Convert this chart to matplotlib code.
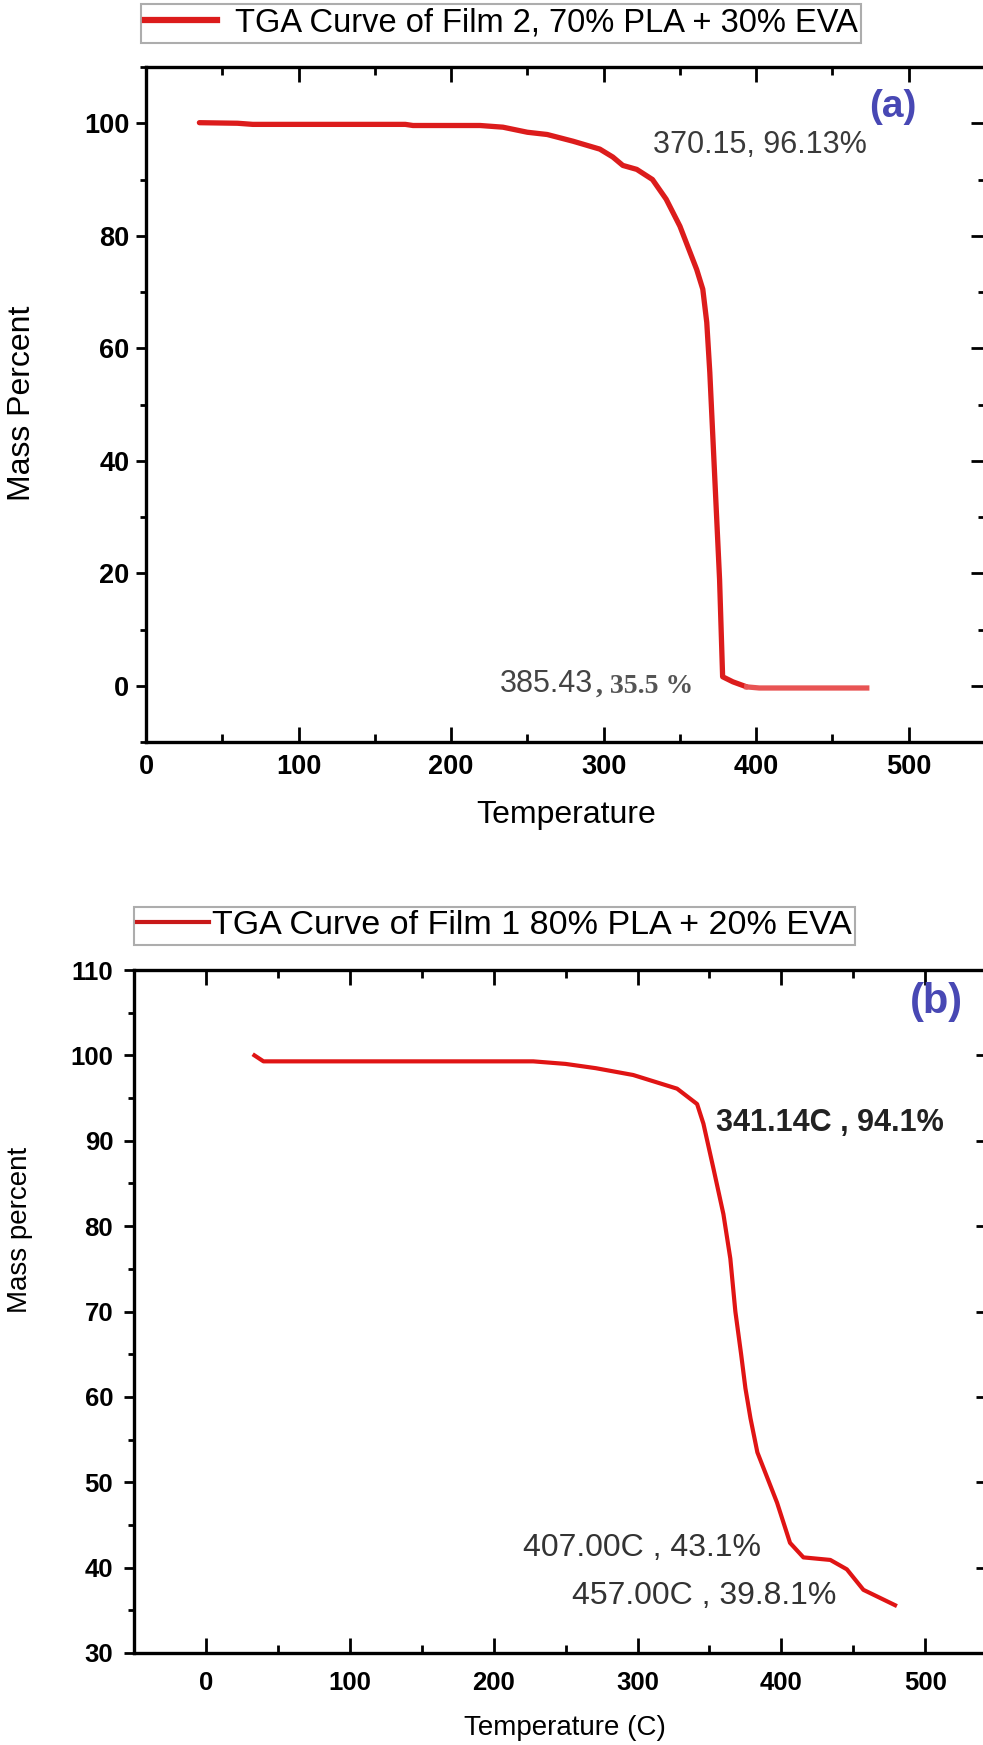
import matplotlib
matplotlib.use("Agg")
import matplotlib.pyplot as plt
from matplotlib.lines import Line2D
from matplotlib.ticker import MultipleLocator

# film 2 (70% PLA + 30% EVA)
temp_a = [35, 60, 70, 120, 170, 175, 219, 234, 250, 263, 280, 297.5, 306, 312.6, 321.7, 332, 341,
          350, 361, 365, 367.6, 369.6, 372.9, 376, 378, 384.7, 393.8, 402, 440, 472.5]
mass_a = [100.1, 100.0, 99.8, 99.8, 99.8, 99.6, 99.6, 99.3, 98.4, 98.0, 96.8, 95.4, 94.0, 92.5, 91.8,
          90.0, 86.5, 81.7, 74.0, 70.5, 64.6, 55.7, 36.7, 18.9, 1.6, 0.7, -0.2, -0.4, -0.4, -0.4]

# film 1 (80% PLA + 20% EVA)
temp_b = [33.7, 40, 120, 227.5, 250, 271, 297, 327.5, 341.4, 345.8, 352.7, 359.7, 364.5, 368,
          372, 375, 378.5, 383.3, 397, 406, 415.3, 434, 445.5, 457, 479]
mass_b = [100.0, 99.3, 99.3, 99.3, 99.0, 98.5, 97.7, 96.1, 94.3, 92.0, 86.8, 81.4, 76.2, 70.0,
          65.0, 61.0, 57.5, 53.5, 47.6, 42.9, 41.2, 40.9, 39.8, 37.4, 35.6]

label_a = "TGA Curve of Film 2, 70% PLA + 30% EVA"
label_b = "TGA Curve of Film 1 80% PLA + 20% EVA"

W, H = 983, 1745
plt.rcParams['font.family'] = ['Liberation Sans', 'DejaVu Sans']


def px(x, y):
    return x / W, 1 - y / H


def style_axes(ax, fs, ylab_pad, xlab_pad, ymaj, ymin):
    ax.yaxis.set_major_locator(MultipleLocator(ymaj))
    ax.yaxis.set_minor_locator(MultipleLocator(ymin))
    ax.xaxis.set_major_locator(MultipleLocator(100))
    ax.xaxis.set_minor_locator(MultipleLocator(50))
    ax.tick_params(axis='x', which='both', direction='in', top=True, width=2)
    ax.tick_params(axis='x', which='major', length=11, labelsize=fs, pad=xlab_pad)
    ax.tick_params(axis='x', which='minor', length=6)
    ax.tick_params(axis='y', which='both', direction='out', right=False, width=2)
    ax.tick_params(axis='y', which='major', length=7, labelsize=fs, pad=ylab_pad)
    ax.tick_params(axis='y', which='minor', length=4)
    for lab in ax.get_xticklabels() + ax.get_yticklabels():
        lab.set_fontweight('bold')
    for sp in ax.spines.values():
        sp.set_linewidth(2.4)
    sec = ax.secondary_yaxis('right')
    sec.yaxis.set_major_locator(MultipleLocator(ymaj))
    sec.yaxis.set_minor_locator(MultipleLocator(ymin))
    sec.tick_params(which='both', direction='in', labelright=False, width=2)
    sec.tick_params(which='major', length=10)
    sec.tick_params(which='minor', length=5)


fig = plt.figure(figsize=(W / 100, H / 100), dpi=100)

# ---- panel (a)
ax1 = fig.add_axes([146 / W, 1 - 742 / H, (985 - 146) / W, (742 - 67) / H])
cut = 26
ax1.plot(temp_a[:cut + 1], mass_a[:cut + 1], color='#dc1c1c', lw=3.8, solid_capstyle='round')
ax1.plot(temp_a[cut:], mass_a[cut:], color='#e85454', lw=3.8)
ax1.set_xlim(0, 550)
ax1.set_ylim(-10, 110)
style_axes(ax1, 19.5, 5, 9, 20, 10)

h1 = Line2D([], [], color='#dc1c1c', lw=4.5)
leg1 = ax1.legend([h1], [label_a], loc='upper left', bbox_to_anchor=px(141, 4),
                  bbox_transform=fig.transFigure, fontsize=23.5, frameon=True, fancybox=False,
                  edgecolor='#999999', borderaxespad=0, borderpad=0.12, handlelength=2.2,
                  handletextpad=0.55)
leg1.get_frame().set_linewidth(1.5)

fig.text(*px(653, 145), "370.15, 96.13%", fontsize=22, color='#3a3a3a', va='center')
fig.text(*px(500, 684), "385.43", fontsize=22, color='#444444', va='center')
fig.text(*px(596, 686), ", 35.5 %", fontsize=20, color='#555555', va='center',
         family=['Liberation Serif'], fontweight='bold')
fig.text(*px(893, 107), "(a)", fontsize=28, color='#4848b4', fontweight='bold',
         ha='center', va='center')
fig.text(*px(22, 403), "Mass Percent", fontsize=23, rotation=90, ha='center', va='center')
fig.text(*px(566, 815), "Temperature", fontsize=23, ha='center', va='center')

# ---- panel (b)
ax2 = fig.add_axes([134 / W, 1 - 1653 / H, (990 - 134) / W, (1653 - 970) / H])
ax2.plot(temp_b, mass_b, color='#e01414', lw=3.0)
ax2.set_xlim(-50, 545)
ax2.set_ylim(30, 110)
style_axes(ax2, 18.5, 8, 13, 10, 5)

h2 = Line2D([], [], color='#c81818', lw=3)
leg2 = ax2.legend([h2], [label_b], loc='upper left', bbox_to_anchor=px(134, 907),
                  bbox_transform=fig.transFigure, fontsize=24.5, frameon=True, fancybox=False,
                  edgecolor='#999999', borderaxespad=0, borderpad=0.1, handlelength=2.1,
                  handletextpad=0.1)
leg2.get_frame().set_linewidth(1.5)

fig.text(*px(716, 1123), "341.14C , 94.1%", fontsize=22, color='#222222', fontweight='bold',
         va='center')
fig.text(*px(523, 1548), "407.00C , 43.1%", fontsize=23, color='#333333', va='center')
fig.text(*px(572, 1596), "457.00C , 39.8.1%", fontsize=23, color='#333333', va='center')
fig.text(*px(936, 1002), "(b)", fontsize=30, color='#4848b4', fontweight='bold',
         ha='center', va='center')
fig.text(*px(20, 1230), "Mass percent", fontsize=20, rotation=90, ha='center', va='center')
fig.text(*px(565, 1728), "Temperature (C)", fontsize=20, ha='center', va='center')

fig.savefig("out.png", dpi=100)
